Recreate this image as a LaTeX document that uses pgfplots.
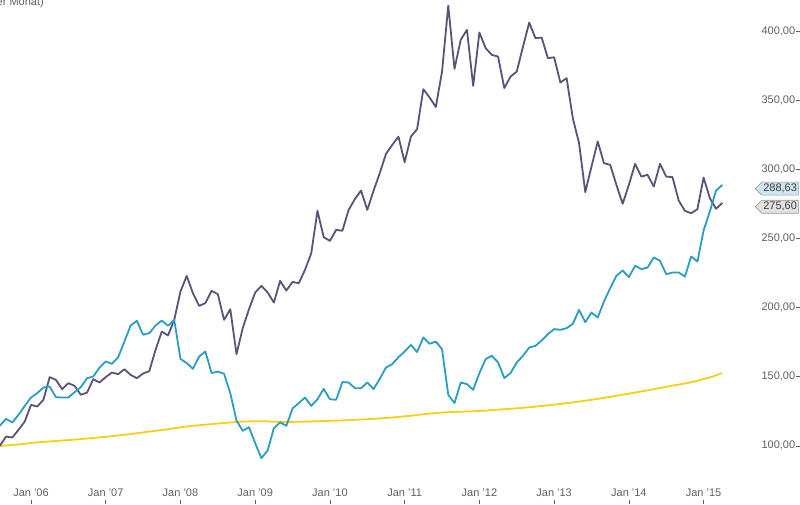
\documentclass[border=0pt]{standalone}
\usepackage{pgfplots}
\pgfplotsset{compat=1.18}
\usepackage{pgfplotstable}
\usepackage{fontspec}
\setmainfont{Liberation Sans}
\usetikzlibrary{shapes.symbols}
\definecolor{cpurple}{RGB}{88,83,120}
\definecolor{cteal}{RGB}{42,157,192}
\definecolor{cyellow}{RGB}{247,207,20}
\definecolor{ctext}{RGB}{95,95,95}

\pgfplotstableread{
m v
-5 100
-4 106.7
-3 106
-2 111.6
-1 117.6
0 129.6
1 128.4
2 133.3
3 149.7
4 147.7
5 141
6 145.3
7 143.4
8 136.9
9 138.5
10 148.2
11 145.8
12 149.7
13 153
14 151.8
15 155.4
16 151.3
17 148.9
18 152.3
19 154
20 169.4
21 182.6
22 179.8
23 191.1
24 211.6
25 222.9
26 210.4
27 201.2
28 203.2
29 212.1
30 209.7
31 191.1
32 198.8
33 166.3
34 185.1
35 198.8
36 210.9
37 215.7
38 210.9
39 203.6
40 219.3
41 212.3
42 218.5
43 217.6
44 227.3
45 239.3
46 269.9
47 250.9
48 248.2
49 256.2
50 255.5
51 270.6
52 278.4
53 284.6
54 270.6
55 284.4
56 297.2
57 311.1
58 317.6
59 323.6
60 305.1
61 323.6
62 329
63 357.9
64 351.9
65 345
66 370.6
67 418.3
68 372.6
69 393.6
70 400.8
71 360.3
72 398.9
73 387.6
74 382.7
75 381.5
76 358.7
77 367
78 370.6
79 388.7
80 406.1
81 394.8
82 395.2
83 380.3
84 381
85 362.7
86 365.9
87 337
88 318.9
89 283.5
90 302
91 320.1
92 304.4
93 303.2
94 288.7
95 275
96 288.7
97 303.9
98 294.7
99 296
100 287.5
101 303.9
102 294.7
103 294.3
104 277.4
105 269.9
106 268.2
107 271.1
108 294
109 279.1
110 271.4
111 275.6
}\purpledata

\pgfplotstableread{
m v
-5 114.5
-4 119.5
-3 116.9
-2 122.4
-1 128.9
0 134.9
1 138.1
2 142.2
3 142.9
4 135.2
5 134.9
6 134.9
7 138.8
8 142.4
9 148.9
10 150.1
11 156.6
12 161
13 159.3
14 164.1
15 175.4
16 187
17 190.4
18 180.3
19 181.5
20 187
21 190.6
22 186.8
23 191.1
24 162.9
25 159.8
26 155.7
27 164.6
28 168.2
29 152.6
30 153.7
31 152.1
32 138.1
33 118.3
34 110.8
35 113.5
36 101.9
37 91.1
38 96.6
39 112.8
40 116.9
41 114.5
42 127
43 130.9
44 134.9
45 128.9
46 133.7
47 141.2
48 133.7
49 133.3
50 146.1
51 145.8
52 141.7
53 141.7
54 145.8
55 141
56 148.4
57 156.6
58 159.1
59 164.1
60 168.2
61 173
62 167.8
63 178.4
64 173.8
65 175.4
66 169.9
67 136.9
68 130.9
69 145.8
70 144.6
71 140.5
72 152.6
73 162.7
74 165.1
75 160.3
76 149
77 152.6
78 160.3
79 165.1
80 171.1
81 172.3
82 176.2
83 180.8
84 184.4
85 183.9
86 185.1
87 188.2
88 198.3
89 189.4
90 196.4
91 192.8
92 204.3
93 214
94 222.9
95 226.8
96 222
97 230.2
98 227.8
99 228.9
100 236.2
101 233.8
102 224.1
103 225.3
104 225.3
105 222.4
106 236.9
107 233.3
108 255.7
109 269.5
110 284.6
111 288.63
}\tealdata

\pgfplotstableread{
m v
-5 100
-2 101
1 102.5
4 103.5
7 104.5
10 105.7
13 107
16 108.5
19 110.3
22 112
25 114
28 115.3
31 116.5
34 117.5
37 117.8
40 117.3
43 117.4
46 117.8
49 118.2
52 118.8
55 119.5
58 120.5
61 121.8
64 123.3
67 124.3
70 124.8
73 125.5
76 126.5
79 127.5
82 128.8
85 130.3
88 132
91 134
94 136.2
97 138.5
100 141
103 143.5
106 146
109 149.5
111 152.6
}\yellowdata

\begin{document}
\begin{tikzpicture}
\begin{axis}[
  scale only axis,
  width=800bp, height=504bp,
  xmin=-4.976, xmax=123.43,
  ymin=58.07, ymax=422.4,
  axis line style={draw=none},
  tick align=inside,
  major tick length=4bp,
  tick style={color=ctext, line width=0.6bp},
  xtick pos=lower, ytick pos=right,
  xticklabel pos=lower, yticklabel pos=right,
  xtick={0,12,...,108},
  xticklabels={Jan '06,Jan '07,Jan '08,Jan '09,Jan '10,Jan '11,Jan '12,Jan '13,Jan '14,Jan '15},
  ytick={100,150,...,400},
  /pgf/number format/assume math mode=true,
  y tick label style={/pgf/number format/fixed, /pgf/number format/fixed zerofill, /pgf/number format/precision=2, /pgf/number format/use comma, /pgf/number format/1000 sep={}},
  every tick label/.append style={font=\fontsize{11bp}{13bp}\selectfont, color=ctext},
  xticklabel style={anchor=base, yshift=7.5bp},
  yticklabel style={anchor=east, xshift=-1bp},
  clip=true,
]
\addplot[color=cyellow, line width=1.8bp, smooth, line join=round] table[x=m,y=v] {\yellowdata};
\addplot[color=cpurple, line width=1.8bp, line join=round] table[x=m,y=v] {\purpledata};
\addplot[color=cteal, line width=1.8bp, line join=round] table[x=m,y=v] {\tealdata};

\node[overlay, signal, signal to=west, signal from=nowhere, draw={rgb,255:red,150;green,150;blue,150}, fill={rgb,255:red,205;green,229;blue,240}, line width=0.6bp, minimum height=13bp, inner xsep=1.5bp, inner ysep=0bp, anchor=east, font=\fontsize{11bp}{13bp}\selectfont, text={rgb,255:red,60;green,60;blue,60}] at (rel axis cs:1,0.6255) [xshift=-1bp] {288,63};
\node[overlay, signal, signal to=west, signal from=nowhere, draw={rgb,255:red,150;green,150;blue,150}, fill={rgb,255:red,226;green,226;blue,226}, line width=0.6bp, minimum height=13bp, inner xsep=1.5bp, inner ysep=0bp, anchor=east, font=\fontsize{11bp}{13bp}\selectfont, text={rgb,255:red,60;green,60;blue,60}] at (rel axis cs:1,0.5897) [xshift=-1bp] {275,60};

\node[overlay, anchor=base east, inner sep=0pt, font=\fontsize{11bp}{13bp}\selectfont, text=ctext] at (rel axis cs:0.055,0.9895) {per Monat)};
\end{axis}
\end{tikzpicture}
\end{document}
